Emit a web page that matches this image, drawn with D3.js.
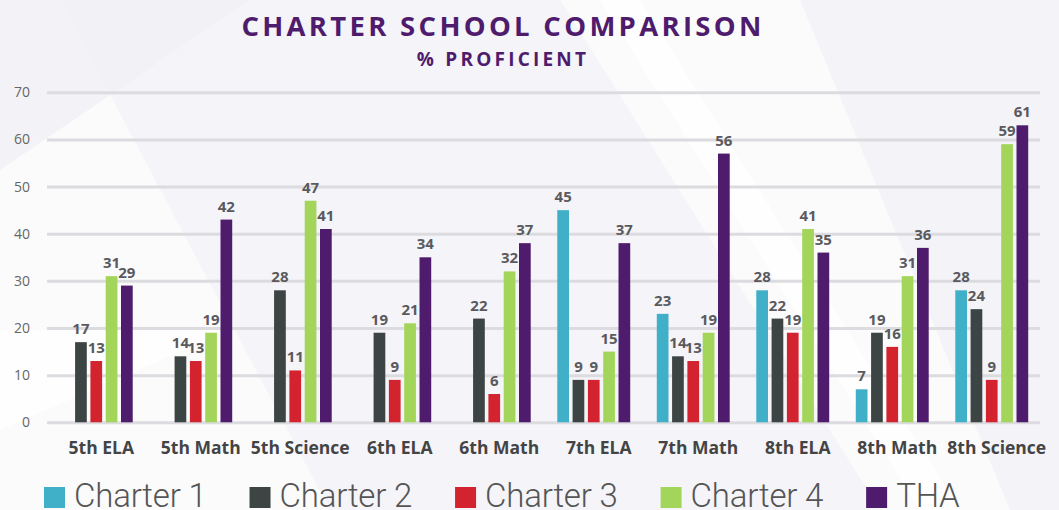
<!DOCTYPE html>
<html>
<head>
<meta charset="utf-8">
<script src="https://cdn.jsdelivr.net/npm/d3@7"></script>
<style>
  body { margin: 0; background: #fff; }
  svg { display: block; }
</style>
</head>
<body>
<div id="chart"></div>
<script>
// ===== data =====
var grades = ["5th ELA","5th Math","5th Science","6th ELA","6th Math","7th ELA","7th Math","8th ELA","8th Math","8th Science"];
var seriesNames = ["Charter 1","Charter 2","Charter 3","Charter 4","THA"];
var charter1 = [null,null,null,null,null,45,23,28,7,28];
var charter2 = [17,14,28,19,22,9,14,22,19,24];
var charter3 = [13,13,11,9,6,9,13,19,16,9];
var charter4 = [31,19,47,21,32,15,19,41,31,59];
// THA bars are drawn a little taller than their printed labels in the original
var tha = [29,43,41,35,38,38,57,36,37,63];
var thaLabels = [29,42,41,34,37,37,56,35,36,61];
var yTicks = [0,10,20,30,40,50,60,70];

var colors = ["#40b0c9","#3c4543","#d3232f","#a4d55b","#4f1c6d"];
var allValues = [charter1, charter2, charter3, charter4, tha];
var allLabels = [charter1, charter2, charter3, charter4, thaLabels];

var W = 1059, H = 510;
var svg = d3.select("#chart").append("svg")
    .attr("width", W)
    .attr("height", H)

// ===== faint background shapes =====
svg.append("rect").attr("width", W).attr("height", H).attr("fill", "#fbfbfc")
var shapes = [
    {pts:[[60,0],[560,0],[880,510],[330,510]], fill:"#f3f3f7"},
    {pts:[[0,0],[250,0],[0,170]], fill:"#f1f1f5"},
    {pts:[[600,0],[640,0],[960,510],[920,510]], fill:"#ffffff"},
    {pts:[[800,0],[1059,0],[1059,510],[1010,510]], fill:"#f2f2f6"},
    {pts:[[1120,0],[1210,0],[1059,250],[1059,140]], fill:"#ffffff"},
    {pts:[[0,330],[230,330],[0,430]], fill:"#ffffff"}
];
svg.selectAll("polygon.bg")
    .data(shapes)
    .enter().append("polygon")
    .attr("class","bg")
    .attr("points", function(d){ return d.pts.map(function(p){return p.join(",")}).join(" ") })
    .attr("fill", function(d){ return d.fill })
    .attr("opacity", 0.8)

// ===== title =====
svg.append("text")
    .text("CHARTER SCHOOL COMPARISON")
    .attr("x", 503)
    .attr("y", 36)
    .attr("text-anchor","middle")
    .attr("font-family","Open Sans")
    .attr("font-weight","bold")
    .attr("font-size","27.5px")
    .attr("letter-spacing","3.3px")
    .attr("fill","#4f1c6d")

svg.append("text")
    .text("% PROFICIENT")
    .attr("x", 503)
    .attr("y", 66)
    .attr("text-anchor","middle")
    .attr("font-family","Open Sans")
    .attr("font-weight","bold")
    .attr("font-size","19px")
    .attr("letter-spacing","3.2px")
    .attr("fill","#4f1c6d")

// ===== scales =====
var y = d3.scaleLinear().domain([0,70]).range([422.3, 92.3])
var x0 = d3.scaleBand().domain(grades).range([46.5, 1041.5]).paddingInner(0.267).paddingOuter(0.1335)
var x1 = d3.scaleBand().domain(seriesNames).range([0, x0.bandwidth()]).paddingInner(0.235)

// gridlines + y labels
var yAxis = svg.append("g")
    .attr("transform","translate(47,0)")
    .call(d3.axisLeft(y).tickValues(yTicks).tickSize(-(1040-47)).tickPadding(17))
yAxis.select(".domain").remove()
yAxis.selectAll(".tick line").attr("stroke","#dcdce0").attr("stroke-width",3)
yAxis.selectAll(".tick text")
    .attr("font-family","Open Sans")
    .attr("font-size","14px")
    .attr("fill","#666")

// category labels
var xAxis = svg.append("g")
    .attr("transform","translate(5,422)")
    .call(d3.axisBottom(x0).tickSize(0))
xAxis.select(".domain").remove()
xAxis.selectAll(".tick text")
    .attr("y", 32)
    .attr("dy", 0)
    .attr("font-family","Open Sans")
    .attr("font-weight","bold")
    .attr("font-size","17.5px")
    .attr("fill","#444")

// ===== bars =====
var groups = svg.selectAll("g.grade")
    .data(grades)
    .enter().append("g")
    .attr("class","grade")
    .attr("transform", function(d){ return "translate(" + x0(d) + ",0)" })

groups.each(function(g, i){
    var grp = d3.select(this)
    var rows = seriesNames.map(function(s, j){
        return {series:s, value:allValues[j][i], label:allLabels[j][i], color:colors[j]}
    }).filter(function(d){ return d.value != null })

    grp.selectAll("rect")
        .data(rows)
        .enter().append("rect")
        .attr("x", function(d){ return x1(d.series) })
        .attr("width", x1.bandwidth())
        .attr("y", function(d){ return y(d.value) })
        .attr("height", function(d){ return y(0) - y(d.value) })
        .attr("fill", function(d){ return d.color })

    grp.selectAll("text")
        .data(rows)
        .enter().append("text")
        .text(function(d){ return d.label })
        .attr("x", function(d){ return x1(d.series) + x1.bandwidth()/2 })
        .attr("y", function(d){ return y(d.value) - 8 })
        .attr("text-anchor","middle")
        .attr("font-family","Open Sans")
        .attr("font-weight","bold")
        .attr("font-size","15px")
        .attr("fill","#5a5a5e")
})

// ===== legend =====
var lx = 44
seriesNames.forEach(function(s, j){
    svg.append("rect")
        .attr("x", lx).attr("y", 487)
        .attr("width", 21).attr("height", 21)
        .attr("fill", colors[j])
    var t = svg.append("text")
        .text(s)
        .attr("x", lx + 30)
        .attr("y", 507)
        .attr("font-family","Roboto")
        .attr("font-weight","300")
        .attr("font-size","33px")
        .attr("letter-spacing","-0.2px")
        .attr("fill","#555")
    lx = lx + 30 + t.node().getComputedTextLength() + 43
})
</script>
</body>
</html>
